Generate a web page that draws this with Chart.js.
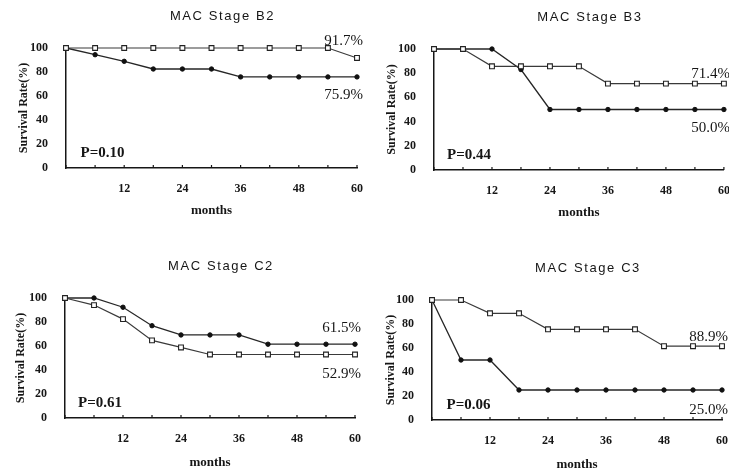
<!DOCTYPE html>
<html><head><meta charset="utf-8">
<script src="https://cdn.jsdelivr.net/npm/chart.js@4.4.0/dist/chart.umd.min.js"></script>
<style>
html,body{margin:0;padding:0;background:#fff;width:729px;height:473px;overflow:hidden}
.p{position:absolute}
canvas{display:block}
</style></head><body>
<div class="p" style="left:0;top:0"><canvas id="c0" width="364" height="236"></canvas></div>
<div class="p" style="left:365px;top:0"><canvas id="c1" width="364" height="236"></canvas></div>
<div class="p" style="left:0;top:250px"><canvas id="c2" width="364" height="223"></canvas></div>
<div class="p" style="left:365px;top:250px"><canvas id="c3" width="364" height="223"></canvas></div>
<script>
// ---- data ----
const months = [0, 6, 12, 18, 24, 30, 36, 42, 48, 54, 60];
const xLabelMonths = [12, 24, 36, 48, 60];
const yTickStep = 20;

const titles = ['MAC Stage B2', 'MAC Stage B3', 'MAC Stage C2', 'MAC Stage C3'];
const pLabels = ['P=0.10', 'P=0.44', 'P=0.61', 'P=0.06'];

const openB2   = [100, 100, 100, 100, 100, 100, 100, 100, 100, 100, 91.7];
const filledB2 = [100, 94.4, 88.9, 82.5, 82.5, 82.5, 75.9, 75.9, 75.9, 75.9, 75.9];
const openB3   = [100, 100, 85.7, 85.7, 85.7, 85.7, 71.4, 71.4, 71.4, 71.4, 71.4];
const filledB3 = [100, 100, 100, 83, 50, 50, 50, 50, 50, 50, 50];
const openC2   = [100, 94.1, 82.4, 64.7, 58.8, 52.9, 52.9, 52.9, 52.9, 52.9, 52.9];
const filledC2 = [100, 100, 92.3, 76.9, 69.2, 69.2, 69.2, 61.5, 61.5, 61.5, 61.5];
const openC3   = [100, 100, 88.9, 88.9, 75.6, 75.6, 75.6, 75.6, 61.5, 61.5, 61.5];
const filledC3 = [100, 50, 50, 25, 25, 25, 25, 25, 25, 25, 25];

const endLabelsB2 = ['91.7%', '75.9%'];
const endLabelsB3 = ['71.4%', '50.0%'];
const endLabelsC2 = ['61.5%', '52.9%'];
const endLabelsC3 = ['88.9%', '25.0%'];

// ---- layout / styling (not data) ----
const panels = [
  {open: openB2, filled: filledB2, ends: endLabelsB2, endY: [106, 61], pAt: [3, 12],
   pad: {left: 17, right: 7, top: 48, bottom: 18}, yW: 49, xH: 50},
  {open: openB3, filled: filledB3, ends: endLabelsB3, endY: [79, 35], pAt: [2.7, 12],
   pad: {left: 20, right: 5, top: 49, bottom: 16}, yW: 49, xH: 50},
  {open: openC2, filled: filledC2, ends: endLabelsC2, endY: [75, 37], pAt: [2.7, 12],
   pad: {left: 14, right: 9, top: 48, bottom: 3}, yW: 51, xH: 52},
  {open: openC3, filled: filledC3, ends: endLabelsC3, endY: [69, 8], pAt: [3, 12],
   pad: {left: 19, right: 7, top: 50, bottom: 1}, yW: 48, xH: 52}
];

const INK = '#161616';
const SERIF = '"Liberation Serif", "Times New Roman", serif';
const SANS = '"Liberation Sans", Arial, sans-serif';

const annotPlugin = {
  id: 'annot',
  afterDraw(chart, args, o) {
    const ctx = chart.ctx, ca = chart.chartArea;
    const xs = chart.scales.x, ys = chart.scales.y;
    ctx.save();
    // inward x tick marks
    ctx.strokeStyle = INK; ctx.lineWidth = 1.2;
    xs.ticks.forEach(t => {
      const px = xs.getPixelForValue(t.value);
      ctx.beginPath(); ctx.moveTo(px, ca.bottom); ctx.lineTo(px, ca.bottom - 3); ctx.stroke();
    });
    ctx.fillStyle = INK;
    // title
    ctx.font = '13px ' + SANS;
    try { ctx.letterSpacing = '1.6px'; } catch (e) {}
    ctx.textAlign = 'center'; ctx.textBaseline = 'middle';
    ctx.fillText(o.title, (ca.left + ca.right) / 2 + 11, ca.top - 32);
    try { ctx.letterSpacing = '0px'; } catch (e) {}
    // end labels
    ctx.font = '15px ' + SERIF;
    ctx.textAlign = 'right';
    o.ends.forEach((s, i) => ctx.fillText(s, ca.right + 6, ys.getPixelForValue(o.endY[i])));
    // P value
    ctx.font = 'bold 15px ' + SERIF;
    ctx.textAlign = 'left';
    ctx.fillText(o.p, xs.getPixelForValue(o.pAt[0]), ys.getPixelForValue(o.pAt[1]));
    ctx.restore();
  }
};

panels.forEach((pn, i) => {
  new Chart(document.getElementById('c' + i), {
    type: 'line',
    data: {
      labels: months,
      datasets: [
        {
          data: pn.open.map((v, k) => ({x: months[k], y: v})),
          borderColor: '#3a3a3a', borderWidth: 1.2,
          pointStyle: 'rect', pointRadius: 3.4, pointBackgroundColor: '#fff', pointBorderColor: '#222',
          pointBorderWidth: 1.1, tension: 0, clip: false
        },
        {
          data: pn.filled.map((v, k) => ({x: months[k], y: v})),
          borderColor: '#262626', borderWidth: 1.3,
          pointStyle: 'circle', pointRadius: 2.2, pointBackgroundColor: '#111', pointBorderColor: '#111',
          pointBorderWidth: 1, tension: 0, clip: false
        }
      ]
    },
    options: {
      responsive: false,
      animation: false,
      layout: {padding: pn.pad},
      plugins: {
        legend: {display: false},
        tooltip: {enabled: false},
        title: {display: false},
        annot: {title: titles[i], p: pLabels[i], ends: pn.ends, endY: pn.endY, pAt: pn.pAt}
      },
      scales: {
        x: {
          type: 'linear', min: 0, max: 60,
          grid: {display: false},
          border: {display: true, color: INK, width: 1.5},
          ticks: {
            stepSize: 6, autoSkip: false, maxRotation: 0, padding: 6, color: INK,
            font: {family: SERIF, size: 12, weight: 'bold'},
            callback: v => xLabelMonths.includes(v) ? String(v) : ''
          },
          title: {display: true, text: 'months', color: INK, padding: {top: 0, bottom: 0},
                  font: {family: SERIF, size: 13, weight: 'bold'}},
          afterFit: s => { s.height = pn.xH; s.paddingLeft = 0; s.paddingRight = 0; }
        },
        y: {
          min: 0, max: 100,
          grid: {display: false},
          border: {display: true, color: INK, width: 1.5},
          ticks: {stepSize: yTickStep, padding: 10, color: INK,
                  font: {family: SERIF, size: 12, weight: 'bold'}},
          title: {display: true, text: 'Survival Rate(%)', color: INK, padding: {top: 0, bottom: 0},
                  font: {family: SERIF, size: 12, weight: 'bold'}},
          afterFit: s => { s.width = pn.yW; s.paddingTop = 0; s.paddingBottom = 0; }
        }
      }
    },
    plugins: [annotPlugin]
  });
});
</script>
</body></html>
